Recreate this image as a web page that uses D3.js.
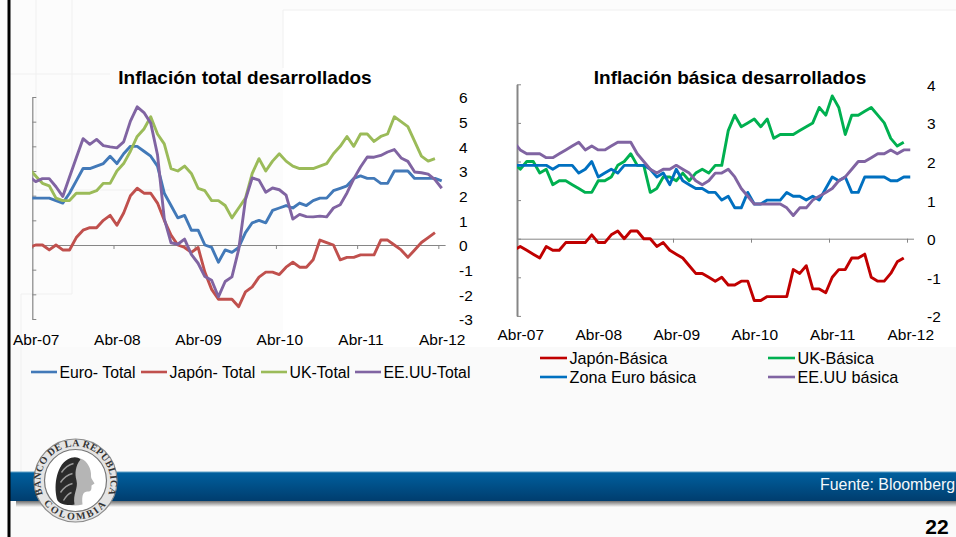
<!DOCTYPE html>
<html>
<head>
<meta charset="utf-8">
<script src="https://cdnjs.cloudflare.com/ajax/libs/d3/7.8.5/d3.min.js"></script>
<style>
  html, body { margin: 0; padding: 0; background: #fcfcfc; overflow: hidden; }
  text { font-family: "Liberation Sans", Arial, sans-serif; fill: #000; }
</style>
</head>
<body>
<script>
// Monthly values, first one is Mar-07 (just off the left edge of the axis), then Abr-07 onwards
var euroTotal = [1.9,
  1.9,1.9,1.9,1.8,1.7,2.1,2.6,3.1,3.1,
  3.2,3.3,3.6,3.3,3.7,4.0,4.0,3.8,3.6,3.2,2.1,1.6,
  1.1,1.2,0.6,0.6,0.0,-0.1,-0.7,-0.2,-0.3,-0.1,0.5,0.9,
  1.0,0.9,1.4,1.5,1.6,1.5,1.7,1.6,1.8,1.9,1.9,2.2,
  2.3,2.4,2.7,2.8,2.7,2.7,2.5,2.5,3.0,3.0,3.0,2.7,
  2.7,2.7,2.7,2.6];
var japonTotal = [-0.1,
  0.0,0.0,-0.2,0.0,-0.2,-0.2,0.3,0.6,0.7,
  0.7,1.0,1.2,0.8,1.3,2.0,2.3,2.1,2.1,1.7,1.0,0.4,
  0.0,-0.1,-0.3,-0.1,-1.1,-1.8,-2.2,-2.2,-2.2,-2.5,-1.9,-1.7,
  -1.3,-1.1,-1.1,-1.2,-0.9,-0.7,-0.9,-0.9,-0.6,0.2,0.1,0.0,
  -0.6,-0.5,-0.5,-0.4,-0.4,-0.4,0.2,0.2,0.0,-0.2,-0.5,-0.2,
  0.1,0.3,0.5];
var ukTotal = [3.1,
  2.8,2.5,2.4,1.9,1.8,1.8,2.1,2.1,2.1,
  2.2,2.5,2.5,3.0,3.3,3.8,4.4,4.7,5.2,4.5,4.1,3.1,
  3.0,3.2,2.9,2.3,2.2,1.8,1.8,1.6,1.1,1.5,1.9,2.9,
  3.5,3.0,3.4,3.7,3.4,3.2,3.1,3.1,3.1,3.2,3.3,3.7,
  4.0,4.4,4.0,4.5,4.5,4.2,4.4,4.5,5.2,5.0,4.8,4.2,
  3.6,3.4,3.5];
var eeuuTotal = [2.78,
  2.57,2.69,2.69,2.36,1.97,2.76,3.54,4.31,4.08,
  4.28,4.03,3.98,3.94,4.18,5.02,5.60,5.37,4.94,3.66,1.07,0.09,
  0.03,0.24,-0.38,-0.74,-1.28,-1.43,-2.10,-1.48,-1.29,-0.18,1.84,2.72,
  2.63,2.14,2.31,2.24,2.02,1.05,1.24,1.15,1.14,1.17,1.14,1.50,
  1.63,2.11,2.68,3.16,3.57,3.56,3.63,3.77,3.87,3.53,3.39,2.96,
  2.93,2.87,2.65,2.30];

var japonBasica = [-0.3,
  -0.2,-0.3,-0.4,-0.5,-0.2,-0.3,-0.3,-0.1,-0.1,
  -0.1,-0.1,0.1,-0.1,-0.1,0.1,0.2,0.0,0.2,0.2,0.0,0.0,
  -0.2,-0.1,-0.3,-0.4,-0.5,-0.7,-0.9,-0.9,-1.0,-1.1,-1.0,-1.2,
  -1.2,-1.1,-1.1,-1.6,-1.6,-1.5,-1.5,-1.5,-1.5,-0.8,-0.9,-0.7,
  -1.3,-1.3,-1.4,-1.0,-0.8,-0.8,-0.5,-0.5,-0.4,-1.0,-1.1,-1.1,
  -0.9,-0.6,-0.5];
var ukBasica = [1.95,
  1.8,2.0,2.0,1.7,1.8,1.4,1.5,1.5,1.4,
  1.3,1.2,1.2,1.5,1.5,1.6,1.9,2.0,2.2,1.9,1.9,1.2,
  1.3,1.6,1.6,1.5,1.7,1.5,1.7,1.8,1.7,1.9,1.9,2.8,
  3.2,2.9,3.0,3.1,2.9,3.1,2.6,2.7,2.7,2.7,2.8,2.9,
  3.0,3.4,3.2,3.7,3.4,2.7,3.2,3.2,3.3,3.4,3.2,3.0,
  2.6,2.4,2.5];
var euroBasica = [1.9,
  1.9,1.9,1.9,1.9,1.9,1.8,1.9,1.9,1.9,
  1.7,1.8,2.0,1.6,1.7,1.8,1.7,1.9,1.9,1.9,1.9,1.8,
  1.6,1.7,1.4,1.8,1.5,1.4,1.3,1.3,1.2,1.2,1.0,1.1,
  0.8,0.8,1.2,0.9,0.9,1.0,1.0,1.0,1.2,1.1,1.1,1.0,
  1.1,1.0,1.3,1.6,1.5,1.6,1.2,1.2,1.6,1.6,1.6,1.6,
  1.5,1.5,1.6,1.6];
var eeuuBasica = [2.5,
  2.3,2.2,2.2,2.2,2.1,2.1,2.2,2.3,2.4,
  2.5,2.3,2.4,2.3,2.3,2.4,2.5,2.5,2.5,2.2,2.0,1.8,
  1.7,1.8,1.8,1.9,1.8,1.7,1.5,1.4,1.5,1.7,1.7,1.8,
  1.6,1.3,1.1,0.9,0.9,0.9,0.9,0.9,0.8,0.6,0.8,0.8,
  1.0,1.1,1.2,1.3,1.5,1.6,1.8,2.0,2.0,2.1,2.2,2.2,
  2.3,2.2,2.3,2.3];

var yearLabels = ["Abr-07", "Abr-08", "Abr-09", "Abr-10", "Abr-11", "Abr-12"];
var totalTicks = [-3, -2, -1, 0, 1, 2, 3, 4, 5, 6];
var basicaTicks = [-2, -1, 0, 1, 2, 3, 4];

var totalSeries = [
  {name: "Euro- Total", values: euroTotal, color: "#4279b8"},
  {name: "Japón- Total", values: japonTotal, color: "#c0504d"},
  {name: "UK-Total", values: ukTotal, color: "#9bbb59"},
  {name: "EE.UU-Total", values: eeuuTotal, color: "#8064a2"}
];
var basicaSeries = [
  {name: "Japón-Básica", values: japonBasica, color: "#c00000"},
  {name: "UK-Básica", values: ukBasica, color: "#00b050"},
  {name: "Zona Euro básica", values: euroBasica, color: "#0070c0"},
  {name: "EE.UU básica", values: eeuuBasica, color: "#8064a2"}
];

var svg = d3.select(document.body).append("svg").attr("width", 956).attr("height", 537)
  .style("display", "block");
var defs = svg.append("defs");

var bandGrad = defs.append("linearGradient").attr("id", "band").attr("x2", 0).attr("y2", 1);
bandGrad.append("stop").attr("offset", 0).attr("stop-color", "#00609f");
bandGrad.append("stop").attr("offset", 1).attr("stop-color", "#003d6e");
var shadowGrad = defs.append("linearGradient").attr("id", "shadow").attr("x2", 0).attr("y2", 1);
shadowGrad.append("stop").attr("offset", 0).attr("stop-color", "#6f6f6f");
shadowGrad.append("stop").attr("offset", 1).attr("stop-color", "#f8f8f8");

drawBackground();
drawChart({
  title: "Inflación total desarrollados", titleX: 245,
  series: totalSeries, yTicks: totalTicks, yDomain: [-3, 6], yRange: [319, 97],
  xRange: [32.3, 445.1], yLabelX: 459, xLabelY: 334, id: "clip-total", axisWidth: 1.2
});
drawChart({
  title: "Inflación básica desarrollados", titleX: 730,
  series: basicaSeries, yTicks: basicaTicks, yDomain: [-2, 4], yRange: [315.9, 84.3],
  xRange: [517, 913.5], yLabelX: 927, xLabelY: 329, id: "clip-basica", axisWidth: 2
});
drawLegend(totalSeries, [[31, 372], [141, 372], [261, 372], [355, 372]], 26, 15.8);
drawLegend(basicaSeries, [[540, 358], [768, 358], [540, 377], [768, 377]], 27, 16.2);
drawFooter();

function drawChart(c) {
  var x = d3.scaleLinear().domain([-0.5, 60.5]).range(c.xRange);
  var y = d3.scaleLinear().domain(c.yDomain).range(c.yRange);
  var g = svg.append("g");

  g.append("text").attr("x", c.titleX).attr("y", 84)
    .attr("text-anchor", "middle").attr("font-weight", "bold").attr("font-size", 19)
    .text(c.title);

  // y axis sits on the left, its labels are a second axis on the right
  var yAxis = g.append("g").attr("transform", "translate(" + c.xRange[0] + ",0)")
    .call(d3.axisRight(y).tickValues(c.yTicks).tickSize(4).tickSizeOuter(0).tickFormat(""));
  var yLabels = g.append("g").attr("transform", "translate(" + c.yLabelX + ",1)")
    .call(d3.axisRight(y).tickValues(c.yTicks).tickSize(0).tickPadding(0).tickFormat(String));
  yLabels.select(".domain").remove();
  yLabels.selectAll("text").attr("font-size", 15.5).style("font-family", "Liberation Sans");

  // tick marks fall on the month boundary, on the zero line
  var tickMonths = yearLabels.map(function(d, i) { return i * 12 - 0.5; });
  g.append("g").attr("transform", "translate(0," + y(0) + ")")
    .call(d3.axisBottom(x).tickValues(tickMonths).tickSize(4).tickSizeOuter(0).tickFormat(""));

  var labelMonths = yearLabels.map(function(d, i) { return i * 12; });
  var xLabels = g.append("g").attr("transform", "translate(0," + c.xLabelY + ")")
    .call(d3.axisBottom(x).tickValues(labelMonths).tickSize(0).tickPadding(0)
      .tickFormat(function(d) { return yearLabels[d / 12]; }));
  xLabels.select(".domain").remove();
  xLabels.selectAll("text").attr("font-size", 15.5).style("font-family", "Liberation Sans");

  g.selectAll(".domain, .tick line").attr("stroke", "#868686");
  yAxis.select(".domain").attr("stroke-width", c.axisWidth);

  g.append("clipPath").attr("id", c.id).append("rect")
    .attr("x", c.xRange[0]).attr("y", 0)
    .attr("width", c.xRange[1] - c.xRange[0]).attr("height", 537);

  var line = d3.line()
    .x(function(d, i) { return x(i - 1); })
    .y(function(d) { return y(d); });

  g.append("g").attr("clip-path", "url(#" + c.id + ")")
    .selectAll("path").data(c.series).enter().append("path")
    .attr("fill", "none")
    .attr("stroke", function(d) { return d.color; })
    .attr("stroke-width", 2.9)
    .attr("stroke-linejoin", "round")
    .attr("d", function(d) { return line(d.values); });
}

function drawLegend(series, spots, keyWidth, fontSize) {
  var item = svg.append("g").selectAll("g").data(series).enter().append("g")
    .attr("transform", function(d, i) { return "translate(" + spots[i][0] + "," + spots[i][1] + ")"; });
  item.append("line").attr("x2", keyWidth)
    .attr("stroke", function(d) { return d.color; }).attr("stroke-width", 2.6);
  item.append("text").attr("x", keyWidth + 2.5).attr("y", 5.5)
    .attr("font-size", fontSize)
    .text(function(d) { return d.name; });
}

function drawBackground() {
  svg.append("rect").attr("width", 956).attr("height", 537).attr("fill", "#fcfcfc");
  svg.append("rect").attr("x", 283).attr("y", 10).attr("width", 673).attr("height", 340).attr("fill", "#ffffff");
  svg.append("rect").attr("x", 10).attr("y", 347).attr("width", 946).attr("height", 190).attr("fill", "#fafafa");

  // faint slide decoration behind the charts
  var faint = [
    [283, 10, 956, 10], [283, 10, 283, 68],
    [36, 0, 36, 190], [72, 0, 72, 294],
    [10, 74, 110, 74], [36, 190, 170, 190],
    [21, 294, 72, 294], [21, 294, 21, 472]
  ];
  svg.append("g").selectAll("line").data(faint).enter().append("line")
    .attr("x1", function(d) { return d[0]; }).attr("y1", function(d) { return d[1]; })
    .attr("x2", function(d) { return d[2]; }).attr("y2", function(d) { return d[3]; })
    .attr("stroke", "#f0f0f0").attr("stroke-width", 1);
}

function drawFooter() {
  svg.append("rect").attr("x", 16).attr("y", 501).attr("width", 940).attr("height", 6).attr("fill", "url(#shadow)");
  svg.append("rect").attr("x", 10).attr("y", 472).attr("width", 946).attr("height", 29).attr("fill", "url(#band)");
  svg.append("rect").attr("x", 10).attr("y", 471.5).attr("width", 946).attr("height", 1).attr("fill", "#5f9fc6");
  svg.append("rect").attr("x", 7.5).attr("y", 0).attr("width", 3).attr("height", 537).attr("fill", "#000");

  svg.append("text").attr("x", 820).attr("y", 490).attr("font-size", 15.9)
    .style("fill", "#f4f8fb").text("Fuente: Bloomberg");
  svg.append("text").attr("x", 937).attr("y", 534).attr("text-anchor", "middle")
    .attr("font-size", 21).attr("font-weight", "bold").text("22");

  drawSeal(75.5, 480.5);
}

// Banco de la Republica seal, drawn roughly
function drawSeal(cx, cy) {
  var seal = svg.append("g").attr("transform", "translate(" + cx + "," + cy + ")");
  seal.append("circle").attr("r", 41.5).attr("fill", "#e4e4e4").attr("stroke", "#8a8a8a").attr("stroke-width", 1.2);
  seal.append("circle").attr("r", 31).attr("fill", "#fff").attr("stroke", "#777").attr("stroke-width", 1.2);

  defs.append("path").attr("id", "seal-top").attr("d", "M-33.5,11 A35,35 0 1 1 33.5,11");
  defs.append("path").attr("id", "seal-bottom").attr("d", "M-33,21 A39,39 0 0 0 33,21");
  seal.append("text").attr("font-size", 10).attr("font-weight", "bold").attr("letter-spacing", 0.3)
    .style("font-family", "Liberation Serif").style("fill", "#333")
    .append("textPath").attr("href", "#seal-top").attr("startOffset", "50%").attr("text-anchor", "middle")
    .text("BANCO DE LA REPUBLICA");
  seal.append("text").attr("font-size", 10).attr("font-weight", "bold").attr("letter-spacing", 2.2)
    .style("font-family", "Liberation Serif").style("fill", "#333")
    .append("textPath").attr("href", "#seal-bottom").attr("startOffset", "50%").attr("text-anchor", "middle")
    .text("COLOMBIA");

  // profile: light face and neck, dark hair over it
  seal.append("path").attr("fill", "#b5b5b5")
    .attr("d", "M-4,-22 C5,-25 13,-19 15,-10 C16,-6 15,-4 16,-2 L19,3 L16,5 C16,9 16,11 12,11 C8,11 6,14 7,24 C0,26 -6,25 -10,23 Z");
  seal.append("path").attr("fill", "#2b2b2b")
    .attr("d", "M-18,20 C-22,8 -20,-14 -8,-21 C-3,-24 2,-24 5,-21 C0,-15 -1,-7 1,0 C3,8 -3,13 -1,24 C-6,25 -14,25 -18,20 Z");
  seal.append("g").selectAll("path")
    .data(["M-14,-8 C-10,-14 -6,-16 -2,-17", "M-15,2 C-11,-4 -7,-6 -3,-7", "M-15,12 C-11,6 -7,4 -3,3", "M-12,20 C-9,15 -7,13 -4,12"])
    .enter().append("path").attr("fill", "none").attr("stroke", "#9a9a9a").attr("stroke-width", 1.4)
    .attr("d", function(d) { return d; });
}
</script>
</body>
</html>
